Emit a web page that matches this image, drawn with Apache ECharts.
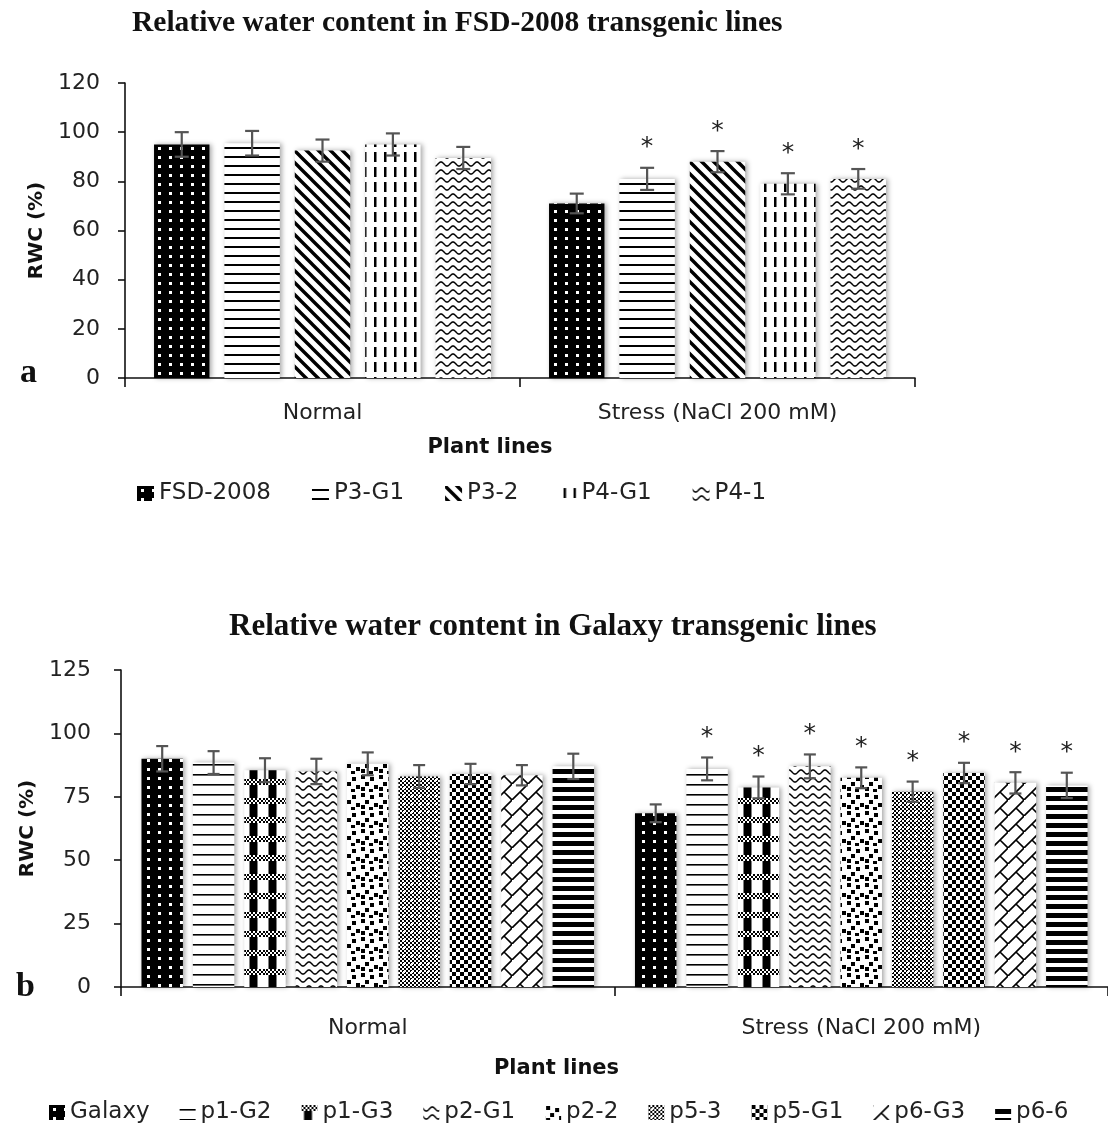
<!DOCTYPE html>
<html>
<head>
<meta charset="utf-8">
<script src="https://cdn.jsdelivr.net/npm/echarts@6/dist/echarts.min.js"></script>
<style>
  html, body { margin: 0; padding: 0; background: #fff; }
  #chart { width: 1108px; height: 1123px; }
</style>
</head>
<body>
<div id="chart"></div>
<script>
// ---- data, panel a (FSD-2008) ----
var catsA = ['Normal', 'Stress (NaCl 200 mM)'];
var linesA = ['FSD-2008', 'P3-G1', 'P3-2', 'P4-G1', 'P4-1'];
var normalA = [95, 95.5, 92.5, 95, 89.5];
var stressA = [71, 81, 88, 79, 81];
var errNormalA = [5, 5, 4.5, 4.5, 4.5];
var errStressA = [4, 4.5, 4.3, 4.3, 4];
var sigStressA = [0, 1, 1, 1, 1];
var ticksA = {min: 0, max: 120, interval: 20};

// ---- data, panel b (Galaxy) ----
var catsB = ['Normal', 'Stress (NaCl 200 mM)'];
var linesB = ['Galaxy', 'p1-G2', 'p1-G3', 'p2-G1', 'p2-2', 'p5-3', 'p5-G1', 'p6-G3', 'p6-6'];
var normalB = [90, 88.5, 85.5, 85, 88, 83, 84, 83.5, 87];
var stressB = [68.5, 86, 78.7, 87, 82.5, 77, 84.4, 80.5, 79.5];
var errNormalB = [5, 4.5, 4.7, 5, 4.5, 4.5, 4, 4, 5];
var errStressB = [3.5, 4.5, 4.3, 4.7, 4.1, 4, 4, 4.2, 5];
var sigStressB = [0, 1, 1, 1, 1, 1, 1, 1, 1];
var ticksB = {min: 0, max: 125, interval: 25};

// fill patterns (black & white hatches like the excel chart)
function pat(w, h, bg, draw) {
  var c = document.createElement('canvas');
  c.width = w; c.height = h;
  var g = c.getContext('2d');
  g.fillStyle = bg; g.fillRect(0, 0, w, h);
  g.fillStyle = '#000'; g.strokeStyle = '#000';
  draw(g);
  return {image: c, repeat: 'repeat'};
}
var P = {
  dots: pat(11, 9, '#000', function (g) { g.fillStyle = '#fff'; g.fillRect(4, 3, 3, 3); }),
  hlines: pat(8, 9, '#fff', function (g) { g.fillRect(0, 3, 8, 2); }),
  diag: pat(12, 12, '#fff', function (g) {
    g.lineWidth = 3.4; g.beginPath();
    g.moveTo(-2, -2); g.lineTo(14, 14);
    g.moveTo(10, -2); g.lineTo(14, 2);
    g.moveTo(-2, 10); g.lineTo(2, 14);
    g.stroke();
  }),
  vdash: pat(10, 15, '#fff', function (g) { g.fillRect(4, 2, 2.5, 10); }),
  wave: pat(12, 8, '#fff', function (g) {
    g.lineWidth = 1.5; g.beginPath();
    for (var x = -1; x <= 13; x += 0.5) {
      var y = 4 + 2 * Math.sin(x / 12 * Math.PI * 2);
      if (x === -1) g.moveTo(x, y); else g.lineTo(x, y);
    }
    g.stroke();
  }),
  hthin: pat(8, 10, '#fff', function (g) { g.fillRect(0, 4, 8, 1.6); }),
  plaid: pat(19, 19, '#fff', function (g) {
    g.fillRect(2.5, 0, 8, 19);
    g.fillStyle = '#fff'; g.fillRect(0, 0, 19, 6);
    g.fillStyle = '#000';
    for (var x = 0; x < 19; x += 2) for (var y = 0; y < 6; y += 2) {
      if (((x + y) / 2) % 2 === 0) g.fillRect(x, y, 2, 2);
    }
  }),
  squares: pat(18, 18, '#fff', function (g) {
    [[1, 1], [10, 3], [5, 8], [14, 11], [1, 13], [9, 15]].forEach(function (p) { g.fillRect(p[0], p[1], 4, 4); });
  }),
  fine: pat(8, 8, '#fff', function (g) {
    for (var x = 0; x < 8; x += 2) for (var y = 0; y < 8; y += 2) {
      if (((x + y) / 2) % 2 === 0) g.fillRect(x, y, 2, 2);
    }
    g.fillStyle = '#fff'; g.fillRect(3, 3, 2, 2);
  }),
  checker: pat(8, 8, '#fff', function (g) { g.fillRect(0, 0, 4, 4); g.fillRect(4, 4, 4, 4); }),
  brick: pat(16, 16, '#fff', function (g) {
    g.lineWidth = 1.6; g.beginPath();
    g.moveTo(-1, 17); g.lineTo(17, -1);
    g.moveTo(8, 8); g.lineTo(17, 17);
    g.moveTo(-1, -1); g.lineTo(0, 0);
    g.stroke();
  }),
  thick: pat(8, 9, '#000', function (g) { g.fillStyle = '#fff'; g.fillRect(0, 0, 8, 4); })
};
var fillsA = [P.dots, P.hlines, P.diag, P.vdash, P.wave];
var fillsB = [P.dots, P.hthin, P.plaid, P.wave, P.squares, P.fine, P.checker, P.brick, P.thick];

var FONT = 'DejaVu Sans';
var SERIF = 'Liberation Serif';

function barSeries(names, fills, normal, stress, axisIdx) {
  return names.map(function (n, i) {
    return {
      name: n, type: 'bar', xAxisIndex: axisIdx, yAxisIndex: axisIdx,
      data: [normal[i], stress[i]],
      itemStyle: {color: fills[i], shadowColor: 'rgba(0,0,0,0.35)', shadowBlur: 5, shadowOffsetX: 2},
      emphasis: {disabled: true}
    };
  });
}

// error bars + significance stars, placed on top of each grouped bar
function errSeries(names, normal, stress, errN, errS, sig, axisIdx, catGap, barGap, cap) {
  var data = [];
  names.forEach(function (n, i) {
    data.push([0, normal[i], errN[i], 0, i]);
    data.push([1, stress[i], errS[i], sig[i], i]);
  });
  var count = names.length;
  return {
    type: 'custom', xAxisIndex: axisIdx, yAxisIndex: axisIdx, z: 5,
    encode: {x: 0, y: 1},
    data: data,
    silent: true,
    renderItem: function (params, api) {
      var cat = api.value(0), mean = api.value(1), err = api.value(2), star = api.value(3), k = api.value(4);
      var band = api.size([1, 0])[0];
      var bw = band * (1 - catGap) / (count + (count - 1) * barGap);
      var total = bw * count + bw * barGap * (count - 1);
      var cx = api.coord([cat, mean])[0] - total / 2 + k * bw * (1 + barGap) + bw / 2;
      var top = api.coord([cat, mean + err])[1];
      var bot = api.coord([cat, mean - err])[1];
      var st = {stroke: '#555', lineWidth: 2.2};
      var kids = [
        {type: 'line', shape: {x1: cx, y1: top, x2: cx, y2: bot}, style: st},
        {type: 'line', shape: {x1: cx - cap, y1: top, x2: cx + cap, y2: top}, style: st},
        {type: 'line', shape: {x1: cx - cap, y1: bot, x2: cx + cap, y2: bot}, style: st}
      ];
      if (star) {
        kids.push({type: 'text', style: {text: '*', x: cx, y: top - 20, align: 'center', verticalAlign: 'middle',
          font: '25px ' + FONT, fill: '#222'}});
      }
      return {type: 'group', children: kids};
    }
  };
}

function xAx(cats, gridIdx, labelMargin, nameGap, namePad) {
  return {
    type: 'category', gridIndex: gridIdx, data: cats,
    axisLine: {lineStyle: {color: '#111', width: 1.6}},
    axisTick: {show: true, length: 9, lineStyle: {color: '#111', width: 1.6}},
    axisLabel: {fontFamily: FONT, fontSize: 22, color: '#222', margin: labelMargin},
    name: 'Plant lines', nameLocation: 'middle', nameGap: nameGap,
    nameTextStyle: {fontFamily: FONT, fontSize: 21, fontWeight: 'bold', color: '#111', padding: namePad}
  };
}
function yAx(t, gridIdx, nameGap, labelMargin) {
  return {
    type: 'value', gridIndex: gridIdx, min: t.min, max: t.max, interval: t.interval,
    splitLine: {show: false},
    axisLine: {show: true, lineStyle: {color: '#111', width: 1.6}},
    axisTick: {show: true, length: 7, lineStyle: {color: '#111', width: 1.6}},
    axisLabel: {fontFamily: FONT, fontSize: 22, color: '#222', margin: labelMargin},
    name: 'RWC (%)', nameLocation: 'middle', nameGap: nameGap, nameRotate: 90,
    nameTextStyle: {fontFamily: FONT, fontSize: 20, fontWeight: 'bold', color: '#111'}
  };
}

var chart = echarts.init(document.getElementById('chart'), null, {renderer: 'canvas'});
var option = {
  animation: false,
  backgroundColor: '#fff',
  title: [
    {text: 'Relative water content in FSD-2008 transgenic lines', left: 127, top: 3,
      textStyle: {fontFamily: SERIF, fontSize: 29.5, fontWeight: 'bold', color: '#111'}},
    {text: 'Relative water content in Galaxy transgenic lines', left: 224, top: 606,
      textStyle: {fontFamily: SERIF, fontSize: 31, fontWeight: 'bold', color: '#111'}}
  ],
  grid: [
    {left: 125, top: 83, width: 790, height: 295},
    {left: 121, top: 670, width: 988, height: 317}
  ],
  legend: [
    {data: linesA, left: 132, top: 477, itemWidth: 17, itemHeight: 15, itemGap: 41, icon: 'rect',
      textStyle: {fontFamily: FONT, fontSize: 23, color: '#222'}, selectedMode: false},
    {data: linesB, left: 44, top: 1096, itemWidth: 16, itemHeight: 15, itemGap: 30, icon: 'rect',
      textStyle: {fontFamily: FONT, fontSize: 23, color: '#222'}, selectedMode: false}
  ],
  xAxis: [xAx(catsA, 0, 24, 59, [0, 60, 0, 0]), xAx(catsB, 1, 30, 71, [0, 116, 0, 0])],
  yAxis: [yAx(ticksA, 0, 75, 25), yAx(ticksB, 1, 71, 30)],
  graphic: [
    {type: 'text', left: 20, top: 356, style: {text: 'a', font: 'bold 34px ' + SERIF, fill: '#111'}},
    {type: 'text', left: 16, top: 970, style: {text: 'b', font: 'bold 34px ' + SERIF, fill: '#111'}}
  ],
  series: [].concat(
    barSeries(linesA, fillsA, normalA, stressA, 0).map(function (s) { s.barCategoryGap = '14.7%'; s.barGap = '27%'; return s; }),
    [errSeries(linesA, normalA, stressA, errNormalA, errStressA, sigStressA, 0, 0.147, 0.27, 7)],
    barSeries(linesB, fillsB, normalB, stressB, 1).map(function (s) { s.barCategoryGap = '8.3%'; s.barGap = '24%'; return s; }),
    [errSeries(linesB, normalB, stressB, errNormalB, errStressB, sigStressB, 1, 0.083, 0.24, 6)]
  )
};
chart.setOption(option);
</script>
</body>
</html>
